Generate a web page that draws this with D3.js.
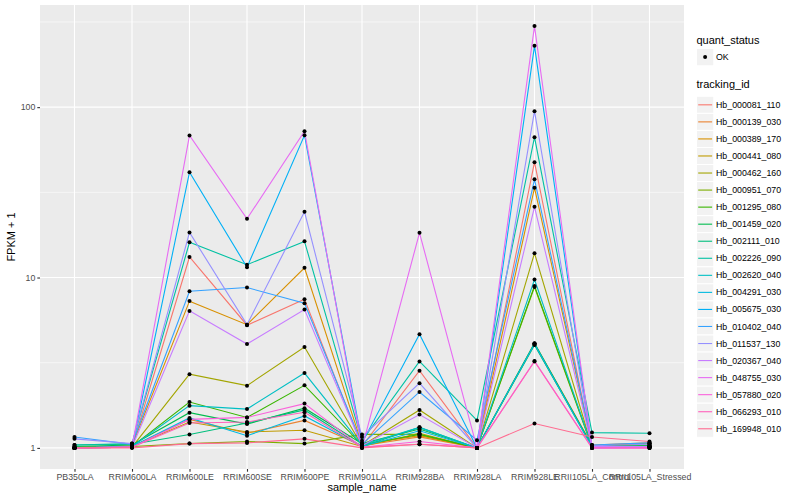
<!DOCTYPE html>
<html>
<head>
<meta charset="utf-8">
<script src="https://cdn.jsdelivr.net/npm/d3@7"></script>
<style>
  body { margin: 0; background: #fff; }
  text { font-family: "Liberation Sans", Arial, sans-serif; }
</style>
</head>
<body>
<div id="container"></div>
<script>
/* DATA */
const samples = ["PB350LA", "RRIM600LA", "RRIM600LE", "RRIM600SE", "RRIM600PE", "RRIM901LA",
  "RRIM928BA", "RRIM928LA", "RRIM928LE", "RRII105LA_Control", "RRII105LA_Stressed"];

const trackingIds = ["Hb_000081_110", "Hb_000139_030", "Hb_000389_170", "Hb_000441_080",
  "Hb_000462_160", "Hb_000951_070", "Hb_001295_080", "Hb_001459_020", "Hb_002111_010",
  "Hb_002226_090", "Hb_002620_040", "Hb_004291_030", "Hb_005675_030", "Hb_010402_040",
  "Hb_011537_130", "Hb_020367_040", "Hb_048755_030", "Hb_057880_020", "Hb_066293_010",
  "Hb_169948_010"];

// FPKM + 1, one row per tracking_id, in sample order
const fpkm = [
  [1.00, 1.01, 13.2, 5.25, 7.46, 1.02, 2.84, 1.00, 47.5, 1.02, 1.01],
  [1.00, 1.02, 1.47, 1.22, 1.45, 1.03, 1.16, 1.00, 4.10, 1.04, 1.07],
  [1.01, 1.03, 7.27, 5.29, 11.4, 1.05, 1.18, 1.00, 33.6, 1.03, 1.06],
  [1.00, 1.02, 1.42, 1.24, 1.27, 1.02, 1.22, 1.00, 4.05, 1.02, 1.06],
  [1.00, 1.01, 2.71, 2.32, 3.91, 1.03, 1.67, 1.00, 13.9, 1.01, 1.02],
  [1.00, 1.02, 1.06, 1.09, 1.06, 1.20, 1.20, 1.00, 8.80, 1.01, 1.02],
  [1.00, 1.02, 1.86, 1.51, 2.33, 1.04, 1.20, 1.00, 8.93, 1.02, 1.03],
  [1.02, 1.04, 1.61, 1.38, 1.71, 1.06, 1.29, 1.00, 4.12, 1.03, 1.03],
  [1.04, 1.05, 1.20, 1.40, 1.67, 1.02, 1.32, 1.00, 4.02, 1.02, 1.02],
  [1.04, 1.06, 16.1, 11.9, 16.3, 1.10, 3.22, 1.45, 66.6, 1.23, 1.22],
  [1.00, 1.02, 1.77, 1.69, 2.75, 1.04, 1.32, 1.00, 9.73, 1.01, 1.02],
  [1.00, 1.02, 1.50, 1.18, 1.54, 1.02, 1.26, 1.00, 4.08, 1.01, 1.02],
  [1.00, 1.01, 41.5, 11.5, 68.4, 1.07, 4.65, 1.00, 229, 1.00, 1.01],
  [1.16, 1.05, 8.30, 8.73, 7.07, 1.05, 2.13, 1.11, 37.7, 1.04, 1.07],
  [1.13, 1.06, 18.4, 5.29, 24.3, 1.16, 2.40, 1.00, 94.7, 1.03, 1.05],
  [1.00, 1.01, 6.37, 4.07, 6.49, 1.03, 1.57, 1.00, 26.0, 1.02, 1.02],
  [1.00, 1.01, 68.2, 22.1, 72.3, 1.00, 18.3, 1.00, 299, 1.00, 1.00],
  [1.00, 1.01, 1.47, 1.51, 1.82, 1.01, 1.09, 1.00, 3.24, 1.00, 1.00],
  [1.00, 1.01, 1.40, 1.42, 1.62, 1.01, 1.05, 1.00, 3.22, 1.00, 1.00],
  [1.00, 1.00, 1.06, 1.07, 1.13, 1.00, 1.05, 1.00, 1.39, 1.16, 1.09]
];

const yTicks = [1, 10, 100];
const quantStatus = ["OK"];

/* CONSTANTS */
const width = 800, height = 500;
const panel = { left: 40, top: 5, right: 684, bottom: 469 };

// ggplot default hue palette for 20 levels
const palette = ["#F8766D", "#EA8331", "#D89000", "#C09B00", "#A3A500", "#7CAE00", "#39B600",
  "#00BB4E", "#00BF7D", "#00C1A3", "#00BFC4", "#00BAE0", "#00B0F6", "#35A2FF", "#9590FF",
  "#C77CFF", "#E76BF3", "#FA62DB", "#FF62BC", "#FF6C91"];

const series = trackingIds.map((id, i) => ({
  id,
  values: samples.map((s, j) => ({ sample: s, value: fpkm[i][j] }))
}));

const svg = d3.select("#container")
  .append("svg")
  .attr("width", width)
  .attr("height", height);

// SCALES
const x = d3.scalePoint()
  .domain(samples)
  .range([panel.left, panel.right])
  .padding(0.6);

const allVals = fpkm.flat();
const lo = Math.log10(d3.min(allVals)), hi = Math.log10(d3.max(allVals));
const pad = (hi - lo) * 0.05;
const y = d3.scaleLog()
  .domain([Math.pow(10, lo - pad), Math.pow(10, hi + pad)])
  .range([panel.bottom, panel.top]);

const color = d3.scaleOrdinal().domain(trackingIds).range(palette);

// PANEL
svg.append("rect")
  .attr("x", panel.left).attr("y", panel.top)
  .attr("width", panel.right - panel.left).attr("height", panel.bottom - panel.top)
  .attr("fill", "#EBEBEB");

// minor grid (midpoints in log space)
const minor = [];
for (let k = -1; k <= 3; k++) minor.push(Math.pow(10, k + 0.5));
svg.append("g").selectAll("line")
  .data(minor.filter(v => y(v) > panel.top && y(v) < panel.bottom))
  .join("line")
  .attr("x1", panel.left).attr("x2", panel.right)
  .attr("y1", d => y(d)).attr("y2", d => y(d))
  .attr("stroke", "#fff").attr("stroke-width", 0.55);

// major grid
svg.append("g").selectAll("line")
  .data(yTicks)
  .join("line")
  .attr("x1", panel.left).attr("x2", panel.right)
  .attr("y1", d => y(d)).attr("y2", d => y(d))
  .attr("stroke", "#fff").attr("stroke-width", 1.1);

svg.append("g").selectAll("line")
  .data(samples)
  .join("line")
  .attr("x1", d => x(d)).attr("x2", d => x(d))
  .attr("y1", panel.top).attr("y2", panel.bottom)
  .attr("stroke", "#fff").attr("stroke-width", 1.1);

// AXES
const xAxis = svg.append("g")
  .attr("transform", `translate(0,${panel.bottom})`)
  .call(d3.axisBottom(x).tickSize(2.7).tickPadding(2));
const yAxis = svg.append("g")
  .attr("transform", `translate(${panel.left},0)`)
  .call(d3.axisLeft(y).tickValues(yTicks).tickFormat(d3.format("d")).tickSize(2.7).tickPadding(2));

[xAxis, yAxis].forEach(g => {
  g.select(".domain").remove();
  g.selectAll(".tick line").attr("stroke", "#333333").attr("stroke-width", 1.1);
  g.selectAll(".tick text")
    .attr("fill", "#4D4D4D")
    .style("font-size", "8.8px")
    .style("font-family", "Liberation Sans, Arial, sans-serif");
});

// axis titles
svg.append("text")
  .attr("x", (panel.left + panel.right) / 2)
  .attr("y", 491)
  .attr("text-anchor", "middle")
  .style("font-size", "11px")
  .text("sample_name");

svg.append("text")
  .attr("transform", `translate(15,${(panel.top + panel.bottom) / 2}) rotate(-90)`)
  .attr("text-anchor", "middle")
  .style("font-size", "11px")
  .text("FPKM + 1");

// LINES
const lineGen = d3.line()
  .x(d => x(d.sample))
  .y(d => y(d.value));

svg.append("g").selectAll("path")
  .data(series)
  .join("path")
  .attr("d", d => lineGen(d.values))
  .attr("fill", "none")
  .attr("stroke", d => color(d.id))
  .attr("stroke-width", 1.1);

// POINTS
svg.append("g").selectAll("g")
  .data(series)
  .join("g")
  .selectAll("circle")
  .data(d => d.values)
  .join("circle")
  .attr("cx", d => x(d.sample))
  .attr("cy", d => y(d.value))
  .attr("r", 2)
  .attr("fill", "#000");

// LEGEND
const legX = 696.5;
const legend = svg.append("g");

legend.append("text")
  .attr("x", legX).attr("y", 44)
  .style("font-size", "11px")
  .text("quant_status");

const qs = legend.append("g").selectAll("g")
  .data(quantStatus)
  .join("g")
  .attr("transform", (d, i) => `translate(${legX},${48.5 + i * 17.3})`);
qs.append("rect")
  .attr("width", 17.3).attr("height", 17.3)
  .attr("fill", "#F2F2F2").attr("stroke", "#fff");
qs.append("circle")
  .attr("cx", 8.6).attr("cy", 8.6).attr("r", 2).attr("fill", "#000");
qs.append("text")
  .attr("x", 19.5).attr("y", 8.6).attr("dy", "0.35em")
  .style("font-size", "8.8px")
  .text(d => d);

legend.append("text")
  .attr("x", legX).attr("y", 88)
  .style("font-size", "11px")
  .text("tracking_id");

const keyH = 17.05;
const keys = legend.append("g").selectAll("g")
  .data(trackingIds)
  .join("g")
  .attr("transform", (d, i) => `translate(${legX},${96.3 + i * keyH})`);
keys.append("rect")
  .attr("width", 17.3).attr("height", keyH)
  .attr("fill", "#F2F2F2").attr("stroke", "#fff");
keys.append("line")
  .attr("x1", 1.7).attr("x2", 15.6)
  .attr("y1", keyH / 2).attr("y2", keyH / 2)
  .attr("stroke", d => color(d)).attr("stroke-width", 1.1);
keys.append("text")
  .attr("x", 19.5).attr("y", keyH / 2).attr("dy", "0.35em")
  .style("font-size", "8.8px")
  .text(d => d);
</script>
</body>
</html>
